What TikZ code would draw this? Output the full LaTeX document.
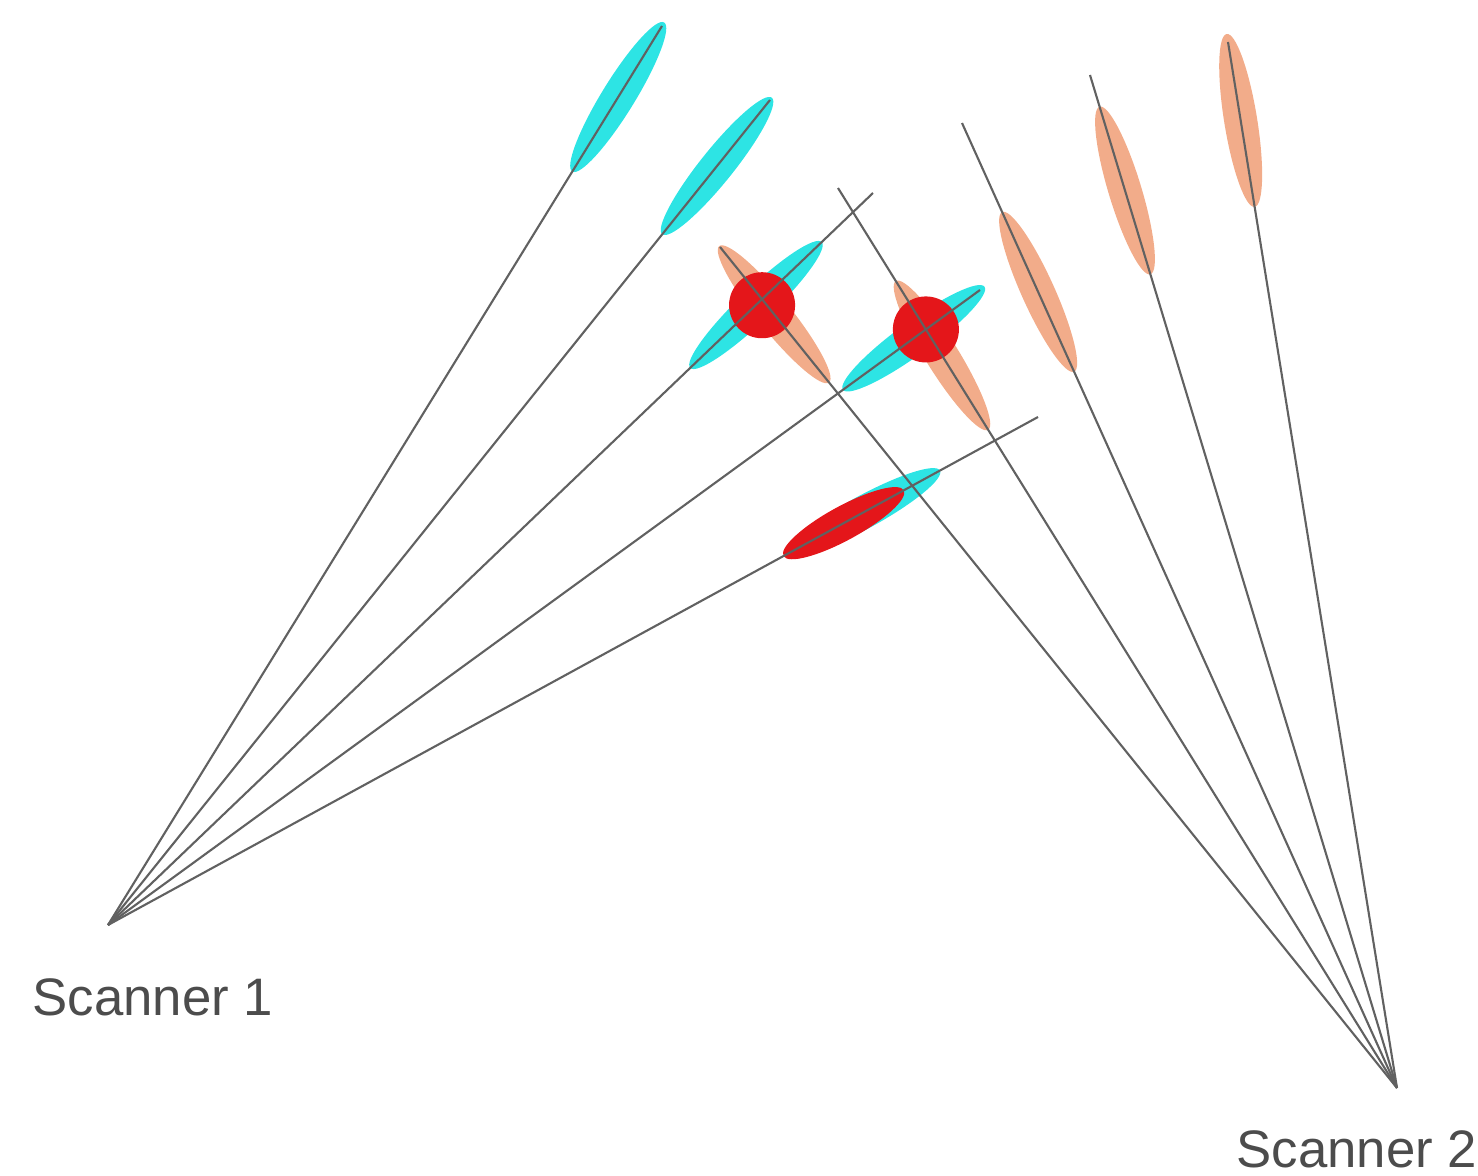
\documentclass[tikz,border=0pt]{standalone}
\usepackage{fontspec}
\setmainfont{Liberation Sans}
\usetikzlibrary{shapes.geometric}

\definecolor{scanone}{RGB}{45,228,228}
\definecolor{scantwo}{RGB}{242,172,138}
\definecolor{matchred}{RGB}{228,22,26}

\begin{document}
\begin{tikzpicture}[
  x=0.01cm, y=-0.01cm,
  ray/.style={draw=black!62, line width=0.6pt},
  blob/.style={ellipse, sloped, inner sep=0pt, minimum width=1.75cm, minimum height=0.33cm},
  blobone/.style={blob, fill=scanone},
  blobtwo/.style={blob, fill=scantwo},
  hit/.style={circle, fill=matchred, inner sep=0pt, minimum size=0.66cm},
  scannertext/.style={font=\fontsize{15}{18}\selectfont, text=black!70, inner sep=0pt}
]
\useasboundingbox (0,0) rectangle (1478,1176);

% scanner positions and ray tips
\coordinate (s1) at (108,925);
\coordinate (s2) at (1397,1088);
\coordinate (a1) at (662,26);
\coordinate (a2) at (770,100);
\coordinate (a3) at (873,193);
\coordinate (a4) at (980,290);
\coordinate (a5) at (1038,417);
\coordinate (b1) at (720,247);
\coordinate (b2) at (838,188);
\coordinate (b3) at (962,123);
\coordinate (b4) at (1090,75);
\coordinate (b5) at (1228,42);

% uncertainty ellipses, scanner 1
\path (s1) -- (a1) node[blobone, pos=0.921] (c1) {};
\path (s1) -- (a2) node[blobone, pos=0.92]  (c2) {};
\path (s1) -- (a3) node[blobone, pos=0.847, minimum width=1.82cm] (c3) {};
\path (s1) -- (a4) node[blobone, pos=0.924] (c4) {};
\path (s1) -- (a5) node[blobone, pos=0.812, minimum width=1.75cm] (c5) {};

% uncertainty ellipses, scanner 2
\path (s2) -- (b1) node[blobtwo, pos=0.92]  (o1) {};
\path (s2) -- (b2) node[blobtwo, pos=0.814] (o2) {};
\path (s2) -- (b3) node[blobtwo, pos=0.825] (o3) {};
\path (s2) -- (b4) node[blobtwo, pos=0.886] (o4) {};
\path (s2) -- (b5) node[blobtwo, pos=0.925] (o5) {};

% matched points
\node[hit, yshift=-0.06cm] (m1) at (intersection of s1--a3 and s2--b1) {};
\node[hit] (m2) at (intersection of s1--a4 and s2--b2) {};
\path (s1) -- (a5) node[blob, fill=matchred, pos=0.791, minimum width=1.37cm, minimum height=0.34cm] (m3) {};

% rays
\draw[ray] (s1) -- (a1);
\draw[ray] (s1) -- (a2);
\draw[ray] (s1) -- (a3);
\draw[ray] (s1) -- (a4);
\draw[ray] (s1) -- (a5);
\draw[ray] (s2) -- (b1);
\draw[ray] (s2) -- (b2);
\draw[ray] (s2) -- (b3);
\draw[ray] (s2) -- (b4);
\draw[ray] (s2) -- (b5);

\node[scannertext, anchor=base west] (name1) at (32,1015) {Scanner 1};
\node[scannertext, anchor=base west] (name2) at (1236,1167) {Scanner 2};
\end{tikzpicture}
\end{document}
